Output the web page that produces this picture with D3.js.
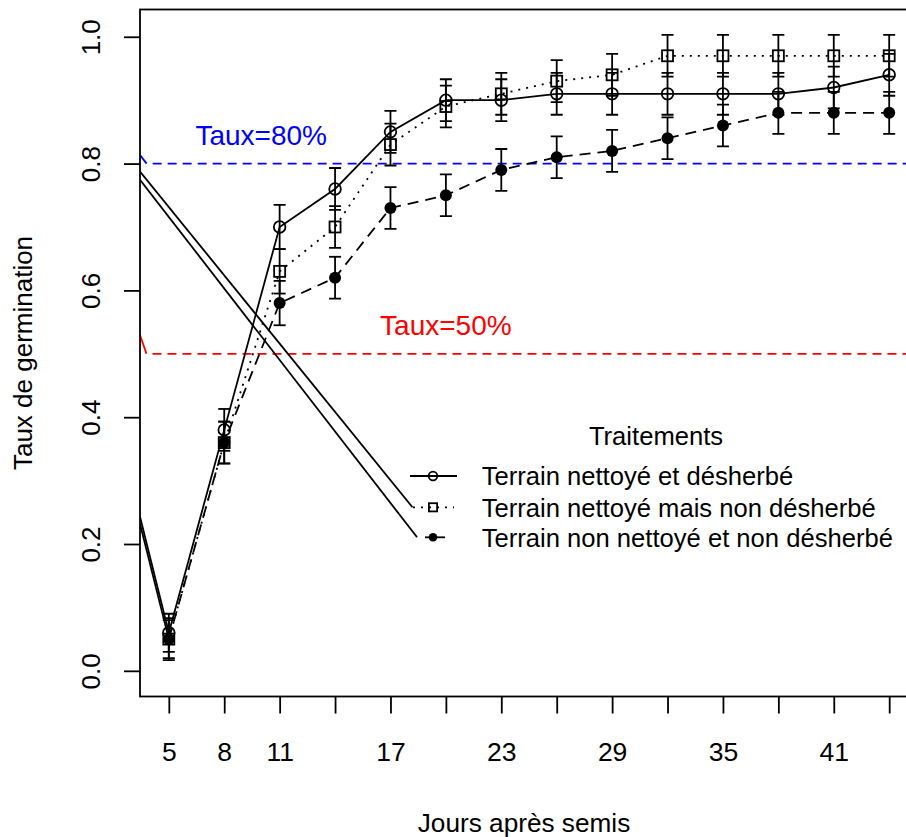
<!DOCTYPE html>
<html>
<head>
<meta charset="utf-8">
<script src="https://cdn.jsdelivr.net/npm/d3@7/dist/d3.min.js"></script>
<style>
    body { margin: 0; background: #fff; }
    svg { display: block; font-family: "Liberation Sans", Arial, sans-serif; }
</style>
</head>
<body>
<div id="container"><svg></svg></div>
<script>
let width = 906, height = 837;
let lmargin = 140, rmargin = 918, umargin = 9.5, dmargin = 696.5; // the right edge of the box falls off the picture

// data
let days = [5, 8, 11, 14, 17, 20, 23, 26, 29, 32, 35, 38, 41, 44];
let day_labels = [5, 8, 11, 17, 23, 29, 35, 41];
let y_ticks = [0, 0.2, 0.4, 0.6, 0.8, 1.0];

let series_names = ['Terrain nettoyé et désherbé', 'Terrain nettoyé mais non désherbé', 'Terrain non nettoyé et non désherbé'];
let s_clean_weeded = [0.06, 0.38, 0.70, 0.76, 0.85, 0.90, 0.90, 0.91, 0.91, 0.91, 0.91, 0.91, 0.92, 0.94];
let s_clean_unweeded = [0.05, 0.36, 0.63, 0.70, 0.83, 0.89, 0.91, 0.93, 0.94, 0.97, 0.97, 0.97, 0.97, 0.97];
let s_none = [0.05, 0.36, 0.58, 0.62, 0.73, 0.75, 0.79, 0.81, 0.82, 0.84, 0.86, 0.88, 0.88, 0.88];
let err_clean_weeded = [0.03, 0.033, 0.035, 0.033, 0.033, 0.033, 0.033, 0.033, 0.033, 0.033, 0.033, 0.033, 0.033, 0.033];
let err_clean_unweeded = [0.03, 0.033, 0.035, 0.033, 0.033, 0.033, 0.033, 0.033, 0.033, 0.033, 0.033, 0.033, 0.033, 0.033];
let err_none = [0.033, 0.033, 0.035, 0.033, 0.033, 0.033, 0.033, 0.033, 0.033, 0.033, 0.033, 0.033, 0.033, 0.033];

// threshold lines: short slanted start, then horizontal dashed
let thresholds = [0.8, 0.5];
let threshold_start = [0.8136, 0.5297];
let threshold_break = [3.80, 3.79];
let threshold_labels = ['Taux=80%', 'Taux=50%'];
let threshold_label_x = [10, 20];
let threshold_label_y = [0.845, 0.545];
let threshold_colors = ['#0000ff', '#ff0000'];

// stray solid lines that leave the left edge of the box
let stray_x = [[3.44, 18.19], [3.44, 18.44], [3.44, 5], [3.44, 5]];
let stray_y = [[0.7874, 0.258], [0.7744, 0.2106], [0.243, 0.06], [0.232, 0.05]];

let fontSize = 25.6;
let lw = 1.8;

let x = d3.scaleLinear().domain([3.44, 45.56]).range([lmargin, rmargin]);
let y = d3.scaleLinear().domain([-0.0405, 1.0430]).range([dmargin, umargin]);

function draw_axes(svg) {
    let yaxis = svg.append('g')
        .attr('transform', `translate(${lmargin},0)`)
        .call(d3.axisLeft(y).tickValues(y_ticks).tickSize(16).tickFormat(d3.format('.1f')));
    yaxis.select('.domain').remove();
    yaxis.selectAll('line').attr('stroke-width', lw);
    yaxis.selectAll('text')
        .attr('font-size', 26)
        .attr('font-family', '"Liberation Sans", Arial, sans-serif')
        .attr('fill', '#000')
        .attr('x', 0).attr('dy', 0)
        .attr('text-anchor', 'middle')
        .attr('transform', 'translate(-40,0) rotate(-90)');

    let xaxis = svg.append('g')
        .attr('transform', `translate(0,${dmargin})`)
        .call(d3.axisBottom(x).tickValues(days).tickSize(17)
            .tickFormat(d => day_labels.includes(d) ? d : ''));
    xaxis.select('.domain').remove();
    xaxis.selectAll('line').attr('stroke-width', lw);
    xaxis.selectAll('text')
        .attr('font-size', 26.5)
        .attr('font-family', '"Liberation Sans", Arial, sans-serif')
        .attr('fill', '#000')
        .attr('y', 64.5).attr('dy', 0);

    svg.append('text')
        .attr('x', (lmargin + rmargin) / 2 - 5).attr('y', 832)
        .attr('text-anchor', 'middle').attr('font-size', 26.2)
        .text('Jours après semis');
    svg.append('text')
        .attr('transform', `translate(32,${(umargin + dmargin) / 2}) rotate(-90)`)
        .attr('text-anchor', 'middle').attr('font-size', 26)
        .text('Taux de germination');
}

function draw_marker(g, kind, cx, cy, size) {
    if (kind == 0) {
        g.append('circle').attr('cx', cx).attr('cy', cy).attr('r', size)
            .attr('fill', 'none').attr('stroke', '#000').attr('stroke-width', lw);
    } else if (kind == 1) {
        g.append('rect').attr('x', cx - size).attr('y', cy - size)
            .attr('width', 2 * size).attr('height', 2 * size)
            .attr('fill', 'none').attr('stroke', '#000').attr('stroke-width', lw);
    } else {
        g.append('circle').attr('cx', cx).attr('cy', cy).attr('r', size)
            .attr('fill', '#000');
    }
}

function draw_graph() {
    let svg = d3.select('#container').select('svg')
        .attr('width', width).attr('height', height);

    svg.append('defs').append('clipPath').attr('id', 'plotclip')
        .append('rect').attr('x', lmargin).attr('y', umargin)
        .attr('width', rmargin - lmargin).attr('height', dmargin - umargin);

    let plot = svg.append('g').attr('clip-path', 'url(#plotclip)');

    // threshold lines
    thresholds.forEach((t, i) => {
        plot.append('line')
            .attr('x1', x(3.44)).attr('y1', y(threshold_start[i]))
            .attr('x2', x(threshold_break[i])).attr('y2', y(t))
            .attr('stroke', threshold_colors[i]).attr('stroke-width', lw);
        plot.append('line')
            .attr('x1', x(threshold_break[i])).attr('y1', y(t))
            .attr('x2', x(45.56)).attr('y2', y(t))
            .attr('stroke', threshold_colors[i]).attr('stroke-width', lw)
            .attr('stroke-dasharray', '9,6').attr('stroke-dashoffset', 9);
        svg.append('text')
            .attr('x', x(threshold_label_x[i])).attr('y', y(threshold_label_y[i]))
            .attr('dy', '0.36em').attr('text-anchor', 'middle')
            .attr('font-size', 28).attr('fill', threshold_colors[i])
            .text(threshold_labels[i]);
    });

    // stray lines
    stray_x.forEach((xs, i) => {
        plot.append('line')
            .attr('x1', x(xs[0])).attr('y1', y(stray_y[i][0]))
            .attr('x2', x(xs[1])).attr('y2', y(stray_y[i][1]))
            .attr('stroke', '#000').attr('stroke-width', lw);
    });

    let all = [s_clean_weeded, s_clean_unweeded, s_none];
    let errs = [err_clean_weeded, err_clean_unweeded, err_none];
    let dashes = [null, '2,6', '11,7'];
    let sizes = [5.8, 5.5, 6];

    let line = d3.line().x(d => x(d[0])).y(d => y(d[1]));
    all.forEach((s, k) => {
        let pts = days.map((d, i) => [d, s[i]]);
        plot.append('path').datum(pts)
            .attr('d', line).attr('fill', 'none')
            .attr('stroke', '#000').attr('stroke-width', lw)
            .attr('stroke-dasharray', dashes[k]);

        // error bars
        let eb = plot.append('g').attr('stroke', '#000').attr('stroke-width', lw);
        days.forEach((d, i) => {
            let lo = y(s[i] - errs[k][i]), hi = y(s[i] + errs[k][i]), cx = x(d);
            eb.append('line').attr('x1', cx).attr('x2', cx).attr('y1', lo).attr('y2', hi);
            eb.append('line').attr('x1', cx - 6).attr('x2', cx + 6).attr('y1', lo).attr('y2', lo);
            eb.append('line').attr('x1', cx - 6).attr('x2', cx + 6).attr('y1', hi).attr('y2', hi);
        });

        let mk = plot.append('g');
        days.forEach((d, i) => draw_marker(mk, k, x(d), y(s[i]), sizes[k]));
    });

    svg.append('rect')
        .attr('x', lmargin).attr('y', umargin)
        .attr('width', rmargin - lmargin).attr('height', dmargin - umargin)
        .attr('fill', 'none').attr('stroke', '#000').attr('stroke-width', lw);

    draw_axes(svg);

    // legend
    let lg = svg.append('g');
    lg.append('text').attr('x', 656).attr('y', 445)
        .attr('text-anchor', 'middle').attr('font-size', fontSize).text('Traitements');
    let rows = [476, 507.3, 537.3];
    let seg = [[410, 457], [413, 454], [425, 445]];
    series_names.forEach((name, k) => {
        lg.append('line')
            .attr('x1', seg[k][0]).attr('x2', seg[k][1])
            .attr('y1', rows[k]).attr('y2', rows[k])
            .attr('stroke', '#000').attr('stroke-width', lw)
            .attr('stroke-dasharray', k == 1 ? '2,6' : null);
        draw_marker(lg, k, 433, rows[k], k == 1 ? 4.1 : 4.3);
        lg.append('text').attr('x', 481.7).attr('y', rows[k]).attr('dy', '0.36em')
            .attr('font-size', fontSize).text(name);
    });
}

draw_graph();
</script>
</body>
</html>
